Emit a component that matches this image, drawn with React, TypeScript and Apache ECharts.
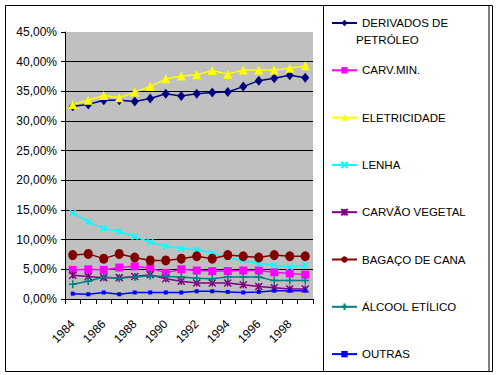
import React, { useEffect, useRef } from "react";
import * as echarts from "echarts";

const years = ["1984", "1985", "1986", "1987", "1988", "1989", "1990", "1991", "1992", "1993", "1994", "1995", "1996", "1997", "1998", "1999"];
const derivados = [32.5, 32.8, 33.5, 33.5, 33.3, 33.8, 34.6, 34.2, 34.6, 34.8, 34.9, 35.8, 36.8, 37.2, 37.7, 37.3];
const carvMin = [4.9, 5.0, 4.9, 5.3, 5.5, 5.2, 4.4, 5.0, 4.8, 4.7, 4.7, 4.8, 4.8, 4.5, 4.3, 4.1];
const eletricidade = [32.8, 33.5, 34.3, 33.9, 34.9, 35.8, 37.1, 37.6, 37.8, 38.5, 37.9, 38.6, 38.6, 38.6, 38.9, 39.3];
const lenha = [14.5, 13.0, 11.9, 11.4, 10.5, 9.6, 8.9, 8.5, 8.3, 7.7, 7.0, 6.5, 6.0, 5.7, 5.4, 5.7];
const carvaoVegetal = [4.0, 3.8, 3.6, 3.6, 3.8, 4.1, 3.4, 3.0, 2.7, 2.7, 2.7, 2.4, 2.1, 1.9, 1.7, 1.7];
const bagaco = [7.4, 7.6, 6.8, 7.6, 7.0, 6.5, 6.5, 6.8, 7.2, 6.8, 7.4, 7.2, 7.0, 7.4, 7.2, 7.2];
const alcool = [2.5, 3.0, 3.7, 3.5, 3.7, 3.9, 3.8, 3.7, 3.5, 3.4, 3.7, 3.7, 3.7, 3.1, 3.1, 3.1];
const outras = [0.9, 0.8, 1.1, 0.8, 1.1, 1.1, 1.1, 1.1, 1.3, 1.3, 1.2, 1.1, 1.2, 1.4, 1.4, 1.4];

const seriesNames = [
  "DERIVADOS DE PETRÓLEO",
  "CARV.MIN.",
  "ELETRICIDADE",
  "LENHA",
  "CARVÃO VEGETAL",
  "BAGAÇO DE CANA",
  "ÁLCOOL ETÍLICO",
  "OUTRAS",
];

const FONT = "'Liberation Sans', Arial, sans-serif";

const X_SYM = "path://M0,0L10,10M10,0L0,10";
const STAR_SYM = "path://M0,0L10,10M10,0L0,10M5,0L5,10";
const PLUS_SYM = "path://M5,0L5,10M0,5L10,5";

export default function App() {
  const ref = useRef<HTMLDivElement>(null);

  useEffect(() => {
    if (!ref.current) return;
    const chart = echarts.init(ref.current, undefined, { renderer: "svg" });

    const mk = (
      name: string,
      data: number[],
      color: string,
      symbol: string,
      symbolSize: number | number[],
      stroked = false
    ) => ({
      name,
      type: "line",
      data,
      symbol,
      symbolSize,
      showSymbol: true,
      lineStyle: { color, width: 1.5 },
      itemStyle: stroked
        ? { color, borderColor: color, borderWidth: 1.5 }
        : { color, borderWidth: 0 },
      emphasis: { disabled: true },
      z: 3,
    });

    const splitColors = [
      "#000", "#000", "#000", "#000", "#000", "#000", "#000", "#000", "#000", "rgba(0,0,0,0)",
    ];

    chart.setOption({
      animation: false,
      backgroundColor: "#ffffff",
      textStyle: { fontFamily: FONT },
      graphic: [
        {
          type: "rect",
          shape: { x: 5.5, y: 5.5, width: 487, height: 366 },
          style: { fill: "none", stroke: "#000", lineWidth: 1 },
          silent: true,
          z: 0,
        },
        {
          type: "rect",
          shape: { x: 323.5, y: 5.5, width: 165.5, height: 366 },
          style: { fill: "none", stroke: "#000", lineWidth: 1 },
          silent: true,
          z: 0,
        },
        {
          type: "text",
          x: 356,
          y: 40,
          style: {
            text: "PETRÓLEO",
            fill: "#000",
            font: `11.5px ${FONT}`,
            verticalAlign: "middle",
            textAlign: "left",
          },
          silent: true,
        },
      ],
      legend: {
        orient: "vertical",
        left: 326,
        top: 11,
        itemWidth: 25,
        itemHeight: 8,
        itemGap: 33.3,
        data: seriesNames,
        formatter: (name: string) =>
          name === "DERIVADOS DE PETRÓLEO" ? "DERIVADOS DE" : name,
        textStyle: { fontFamily: FONT, fontSize: 11.5, color: "#000", lineHeight: 14 },
        selectedMode: false,
      },
      grid: {
        left: 65,
        top: 32,
        width: 248,
        height: 267,
        show: true,
        backgroundColor: "#C0C0C0",
        borderWidth: 0,
      },
      xAxis: {
        type: "category",
        data: years,
        boundaryGap: true,
        axisLine: { show: true, lineStyle: { color: "#000", width: 1 } },
        axisTick: { show: true, interval: 0, length: 5, lineStyle: { color: "#000" } },
        axisLabel: {
          interval: 1,
          rotate: 45,
          margin: 23,
          fontSize: 12,
          fontFamily: FONT,
          color: "#000",
        },
        splitLine: { show: false },
      },
      yAxis: {
        type: "value",
        min: 0,
        max: 45,
        interval: 5,
        axisLine: { show: true, lineStyle: { color: "#000", width: 1 } },
        axisTick: { show: true, length: 4, lineStyle: { color: "#000" } },
        axisLabel: {
          fontSize: 12,
          fontFamily: FONT,
          color: "#000",
          margin: 8,
          formatter: (v: number) => v.toFixed(2).replace(".", ",") + "%",
        },
        splitLine: { show: true, lineStyle: { color: splitColors, width: 1 } },
      },
      series: [
        mk(seriesNames[0], derivados, "#000080", "diamond", [8, 10]),
        mk(seriesNames[1], carvMin, "#FF00FF", "rect", 8),
        mk(seriesNames[2], eletricidade, "#FFFF00", "triangle", 9),
        mk(seriesNames[3], lenha, "#00FFFF", X_SYM, 6, true),
        mk(seriesNames[4], carvaoVegetal, "#800080", STAR_SYM, 7, true),
        mk(seriesNames[5], bagaco, "#800000", "circle", [9, 10]),
        mk(seriesNames[6], alcool, "#008080", PLUS_SYM, 8, true),
        mk(seriesNames[7], outras, "#0000FF", "rect", 4),
      ],
    });

    return () => chart.dispose();
  }, []);

  return (
    <div
      ref={ref}
      style={{ position: "fixed", left: 0, top: 0, width: 496, height: 375 }}
    />
  );
}
